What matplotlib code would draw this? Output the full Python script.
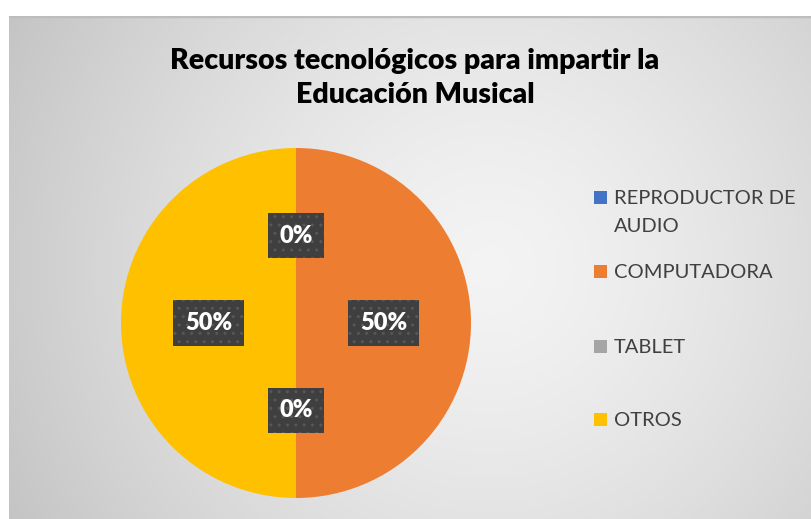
import numpy as np
import matplotlib
matplotlib.use("Agg")
import matplotlib.pyplot as plt
from matplotlib.patches import Rectangle
import textwrap

# ---- data ----
categories = ["REPRODUCTOR DE AUDIO", "COMPUTADORA", "TABLET", "OTROS"]
values = [0, 50, 0, 50]
colors = ["#4472C4", "#ED7D31", "#A5A5A5", "#FFC000"]
title = "Recursos tecnológicos para impartir la\nEducación Musical"

W, H = 811, 519
fig = plt.figure(figsize=(W / 100, H / 100), dpi=100)
fig.patch.set_facecolor("white")

# ---- background (radial gradient chart area) ----
bx0, by_top = 9, 16
bg = fig.add_axes([bx0 / W, 0, (W - bx0) / W, (H - by_top) / H])
bg.set_axis_off()
nx, ny = 400, 250
xx, yy = np.meshgrid(np.linspace(0, 1, nx), np.linspace(0, 1, ny))
cx, cy = 0.6, 0.5
r = np.sqrt(((xx - cx) * 1.6) ** 2 + (yy - cy) ** 2)
r = r / r.max()
light, dark = 0.955, 0.77
g = light - (light - dark) * np.clip(r, 0, 1) ** 1.4
img = np.dstack([g, g, g])
bg.imshow(img, extent=[0, 1, 0, 1], origin="upper", aspect="auto")
bg.set_xlim(0, 1)
bg.set_ylim(0, 1)
bg.axhline(1, color="#BDBDBD", lw=2.5)

plt.rcParams["font.family"] = ["Lato", "DejaVu Sans"]

# ---- pie ----
pcx, pcy, rad = 296, 323, 175
pax = fig.add_axes([(pcx - rad) / W, (H - pcy - rad) / H, 2 * rad / W, 2 * rad / H])
wedges, texts, autotexts = pax.pie(
    values, colors=colors, startangle=90, counterclock=False,
    autopct="%1.0f%%", pctdistance=0.5, radius=1,
    wedgeprops=dict(linewidth=0),
)
pax.set_xlim(-1, 1)
pax.set_ylim(-1, 1)
pax.set_aspect("equal")
for t in autotexts:
    t.set_color("white")
    t.set_fontsize(17)
    t.set_fontweight("heavy")
    t.set_bbox(dict(boxstyle="square,pad=0.5", facecolor="#3F3F3F",
                    edgecolor="#575757", linewidth=0, hatch=".."))

# ---- title ----
fig.text(415 / W, 1 - 78 / H, title, ha="center", va="center",
         fontsize=20.5, fontweight="heavy", color="black", linespacing=1.42)

# ---- legend ----
leg_y = [197, 271, 346, 419]
for cat, col, y in zip(categories, colors, leg_y):
    fig.add_artist(Rectangle((594 / W, 1 - (y + 6.5) / H), 13 / W, 13 / H,
                             transform=fig.transFigure, facecolor=col,
                             edgecolor="none"))
    fig.text(614 / W, 1 - (y - 7) / H, "\n".join(textwrap.wrap(cat, 15)),
             ha="left", va="top", fontsize=14.5, color="#404040",
             linespacing=1.75)

fig.savefig("out.png", dpi=100, facecolor=fig.get_facecolor())
